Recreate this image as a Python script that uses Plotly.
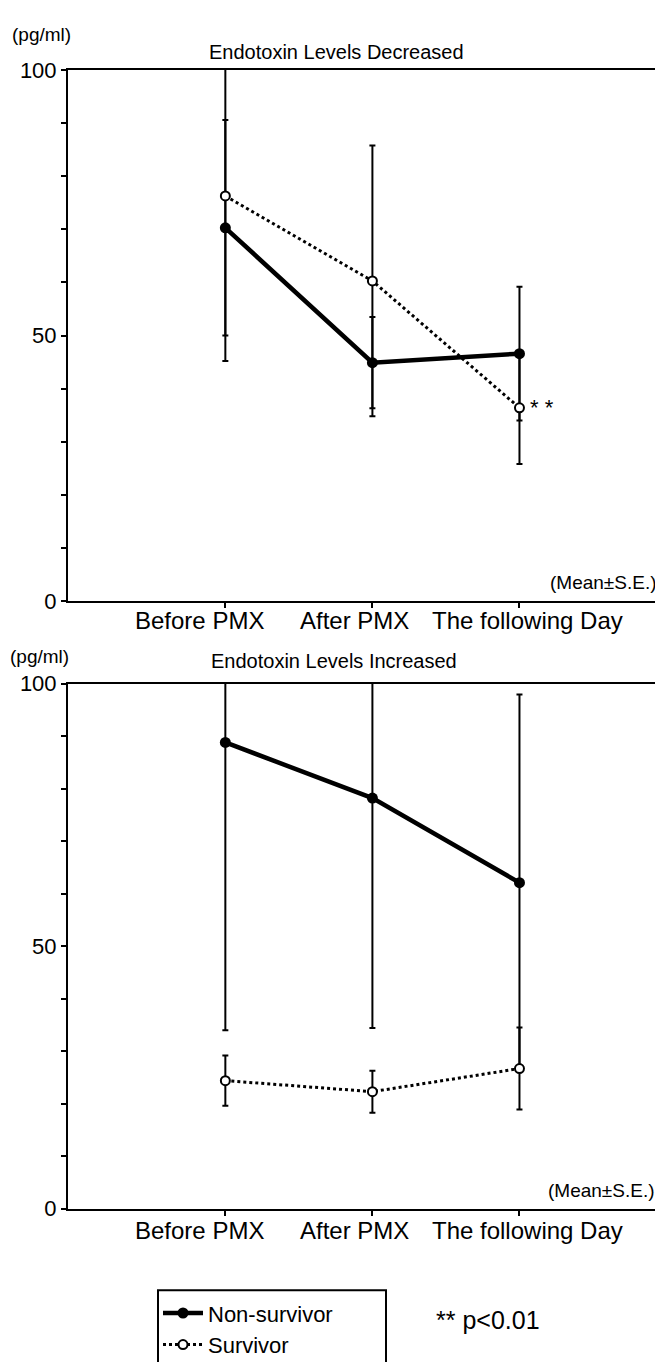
import plotly.graph_objects as go

# categories (x axis)
days = ["Before PMX", "After PMX", "The following Day"]

# Endotoxin Levels Decreased (pg/ml, mean and S.E.)
dec_nonsurv = [70.3, 44.9, 46.6]
dec_nonsurv_se = [20.3, 8.6, 12.6]
dec_surv = [76.3, 60.3, 36.4]
dec_surv_se = [31.1, 25.5, 10.6]

# Endotoxin Levels Increased
inc_nonsurv = [88.8, 78.2, 62.1]
inc_nonsurv_se = [54.8, 43.8, 35.8]
inc_surv = [24.4, 22.3, 26.7]
inc_surv_se = [4.8, 4.0, 7.8]

y_ticks = [0, 10, 20, 30, 40, 50, 60, 70, 80, 90, 100]
y_ticktext = ["0", "", "", "", "", "50", "", "", "", "", "100"]

W, H = 663, 1362
FONT = "Liberation Sans, Arial, sans-serif"


def px_x(p):
    return p / W


def px_y(p):
    return 1 - p / H


def nonsurv_trace(y, se, xa, ya, show):
    return go.Scatter(
        x=days, y=y, xaxis=xa, yaxis=ya, name="Non-survivor",
        mode="lines+markers", showlegend=show, legendrank=1,
        line=dict(color="black", width=4.5),
        marker=dict(size=11, color="black"),
        error_y=dict(type="data", array=se, color="black", thickness=2, width=3),
    )


def surv_trace(y, se, xa, ya, show):
    return go.Scatter(
        x=days, y=y, xaxis=xa, yaxis=ya, name="Survivor",
        mode="lines+markers", showlegend=show, legendrank=2,
        line=dict(color="black", width=3, dash="dot"),
        marker=dict(size=9, color="white", line=dict(color="black", width=2)),
        error_y=dict(type="data", array=se, color="black", thickness=2, width=3),
    )


fig = go.Figure()
fig.add_trace(nonsurv_trace(dec_nonsurv, dec_nonsurv_se, "x", "y", True))
fig.add_trace(surv_trace(dec_surv, dec_surv_se, "x", "y", True))
fig.add_trace(nonsurv_trace(inc_nonsurv, inc_nonsurv_se, "x2", "y2", False))
fig.add_trace(surv_trace(inc_surv, inc_surv_se, "x2", "y2", False))

xaxis_style = dict(
    type="category", range=[-1.07, 3.01], showline=True, linecolor="black",
    linewidth=2, mirror=True, ticks="outside", ticklen=5, tickwidth=2,
    tickcolor="black", showgrid=False, zeroline=False, showticklabels=False,
)
yaxis_style = dict(
    range=[0, 100], tickvals=y_ticks, ticktext=y_ticktext, showline=True,
    linecolor="black", linewidth=2, mirror=True, ticks="outside", ticklen=5,
    tickwidth=1.5, tickcolor="black", showgrid=False, zeroline=False,
    tickfont=dict(size=22, color="black"),
)

x_dom = [px_x(60), px_x(660)]
fig.update_layout(
    width=W, height=H,
    margin=dict(l=0, r=0, t=0, b=0),
    paper_bgcolor="white", plot_bgcolor="white",
    font=dict(family=FONT, color="black"),
    xaxis=dict(domain=x_dom, anchor="y", **xaxis_style),
    yaxis=dict(domain=[px_y(592), px_y(51)], anchor="x", **yaxis_style),
    xaxis2=dict(domain=x_dom, anchor="y2", **xaxis_style),
    yaxis2=dict(domain=[px_y(1211), px_y(676)], anchor="x2", **yaxis_style),
    legend=dict(
        x=px_x(150), y=px_y(1296), xanchor="left", yanchor="top",
        borderwidth=0, bgcolor="rgba(0,0,0,0)",
        font=dict(size=22, color="black"), itemwidth=40, tracegroupgap=0,
    ),
)

# frame round the legend, running off the bottom edge as in the scan
fig.add_shape(type="rect", xref="paper", yref="paper",
              x0=px_x(150), x1=px_x(378), y0=px_y(1375), y1=px_y(1294),
              line=dict(color="black", width=2), fillcolor="rgba(0,0,0,0)")

annotations = [
    dict(text="(pg/ml)", x=px_x(2), y=px_y(15), xanchor="left", font=dict(size=19)),
    dict(text="Endotoxin Levels Decreased", x=px_x(328), y=px_y(33), font=dict(size=20)),
    dict(text="(pg/ml)", x=px_x(0), y=px_y(648), xanchor="left", font=dict(size=19)),
    dict(text="Endotoxin Levels Increased", x=px_x(326), y=px_y(653), font=dict(size=20)),
    dict(text="(Mean±S.E.)", x=px_x(651), y=px_y(573), xanchor="right", font=dict(size=19)),
    dict(text="(Mean±S.E.)", x=px_x(649), y=px_y(1192), xanchor="right", font=dict(size=19)),
    dict(text="** p<0.01", x=px_x(426), y=px_y(1324), xanchor="left", font=dict(size=25)),
]
for a in annotations:
    fig.add_annotation(xref="paper", yref="paper", yanchor="middle", showarrow=False,
                       font_color="black", **a)

# category labels under each panel (slightly spread, as in the original)
label_shift = [-26, -18, 8]
for xa, ypx in (("x", 612), ("x2", 1233)):
    for d, s in zip(days, label_shift):
        fig.add_annotation(xref=xa, yref="paper", x=d, y=px_y(ypx), text=d,
                           xshift=s, yanchor="middle", showarrow=False,
                           font=dict(size=24, color="black"))

# significance mark next to survivor value on the following day
fig.add_annotation(xref="x", yref="y", x=days[2], y=dec_surv[2], text="* *",
                   xanchor="left", yanchor="middle", xshift=9, showarrow=False,
                   font=dict(size=22, color="black"))

fig.write_html("out.html")
